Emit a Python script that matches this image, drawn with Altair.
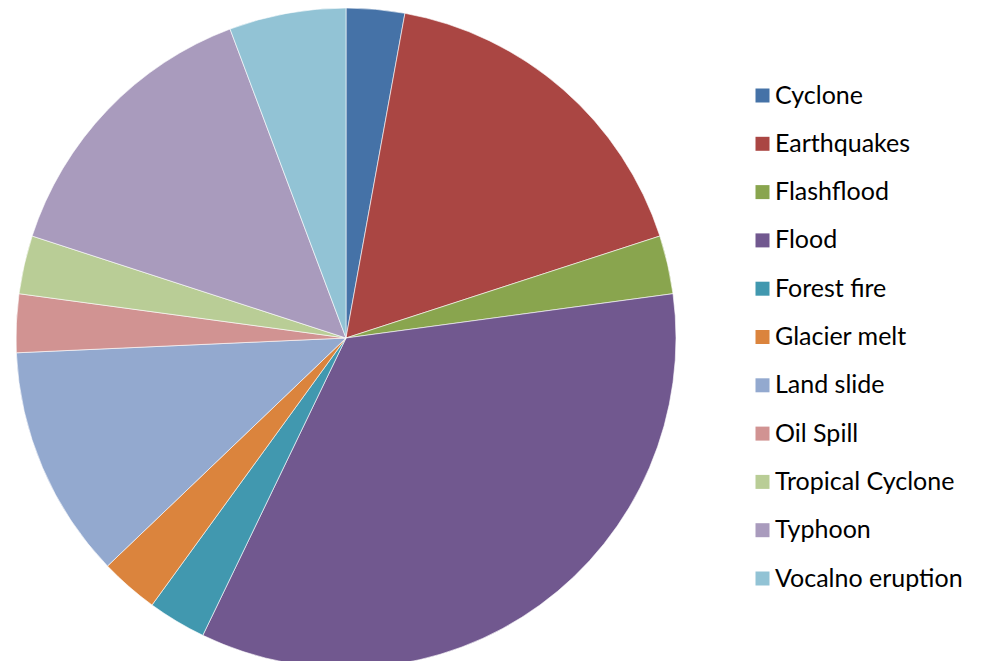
import altair as alt
import pandas as pd

categories = ["Cyclone", "Earthquakes", "Flashflood", "Flood", "Forest fire",
              "Glacier melt", "Land slide", "Oil Spill", "Tropical Cyclone",
              "Typhoon", "Vocalno eruption"]
counts = [1, 6, 1, 12, 1, 1, 4, 1, 1, 5, 2]
colors = ["#4572A7", "#AA4643", "#89A54E", "#71588F", "#4198AF", "#DB843D",
          "#93A9CF", "#D19392", "#B9CD96", "#A99BBD", "#92C3D5"]

df = pd.DataFrame({"category": categories, "count": counts,
                   "idx": list(range(len(categories)))})

chart = alt.Chart(df).mark_arc(radius=330, stroke="white", strokeWidth=0.6).encode(
    theta=alt.Theta("count:Q", stack=True),
    order=alt.Order("idx:Q"),
    x=alt.value(338),
    y=alt.value(330),
    color=alt.Color(
        "category:N",
        sort=categories,
        scale=alt.Scale(domain=categories, range=colors),
        legend=alt.Legend(
            title=None,
            orient="none",
            legendX=742,
            legendY=75,
            symbolType="square",
            symbolSize=196,
            symbolStrokeWidth=0,
            labelFont="Lato",
            labelFontSize=25,
            labelColor="#000000",
            labelOffset=0,
            rowPadding=22.3,
            padding=0,
            labelLimit=300,
        ),
    ),
).properties(
    width=966,
    height=653,
    padding=0,
    autosize=alt.AutoSizeParams(type="none"),
).configure_view(stroke=None)

chart.save("out.html", embed_options={"renderer": "svg", "actions": False})
